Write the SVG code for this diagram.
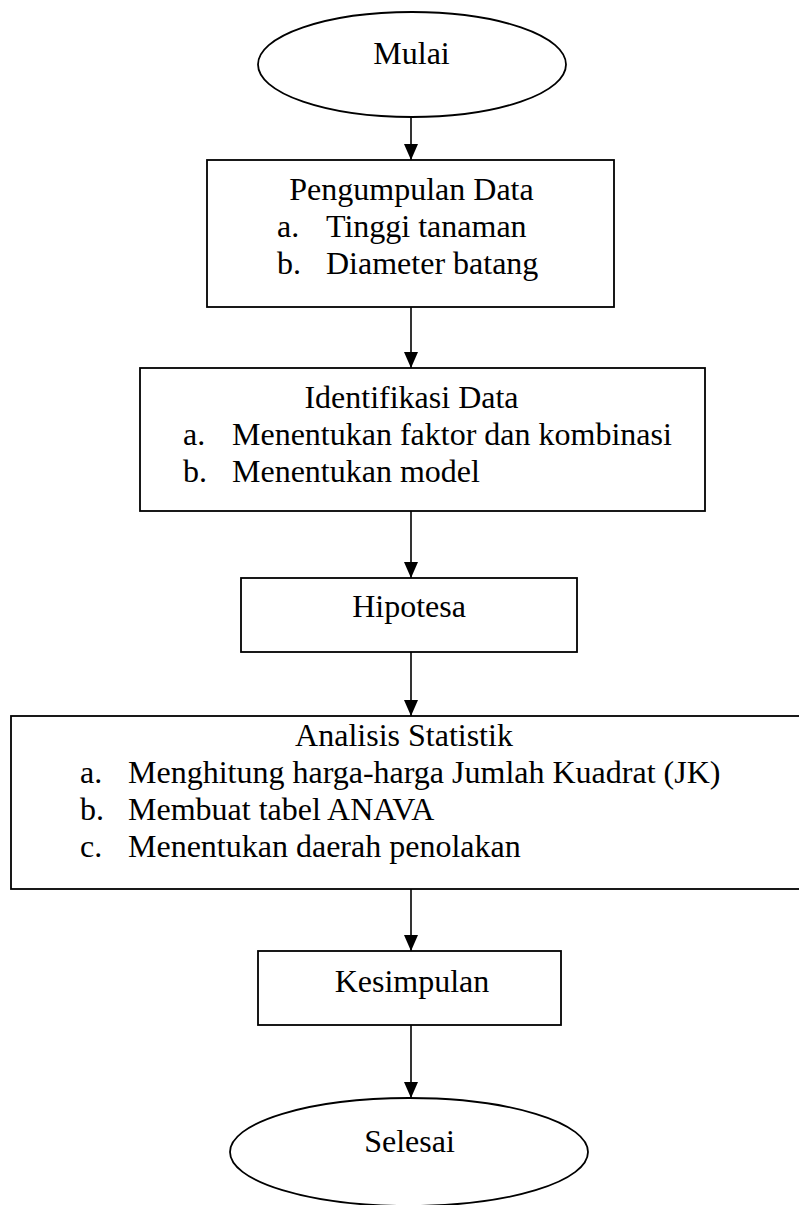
<svg xmlns="http://www.w3.org/2000/svg" width="799" height="1205" viewBox="0 0 799 1205">
<style>
.shape{fill:#fff;stroke:#000;stroke-width:1.8}
.t{font-family:"Liberation Serif","Times New Roman",serif;font-size:32px;fill:#000}
.c{text-anchor:middle}
.conn{stroke:#000;stroke-width:1.6;fill:none}
</style>
<defs>
<marker id="ah" markerUnits="userSpaceOnUse" markerWidth="16" markerHeight="14" refX="16" refY="7" orient="auto" viewBox="0 0 16 14">
<path d="M0,0 L16,7 L0,14 Z" fill="#000"/>
</marker>
</defs>
<rect width="799" height="1205" fill="#fff"/>
<g id="connectors">
<line class="conn" x1="411" y1="117" x2="411" y2="160" marker-end="url(#ah)"/>
<line class="conn" x1="411" y1="307" x2="411" y2="368" marker-end="url(#ah)"/>
<line class="conn" x1="411" y1="511" x2="411" y2="578" marker-end="url(#ah)"/>
<line class="conn" x1="411" y1="652" x2="411" y2="716" marker-end="url(#ah)"/>
<line class="conn" x1="411" y1="889" x2="411" y2="951" marker-end="url(#ah)"/>
<line class="conn" x1="411" y1="1025" x2="411" y2="1098" marker-end="url(#ah)"/>
</g>
<g id="mulai">
<ellipse class="shape" cx="412" cy="64.5" rx="154" ry="52.5"/>
<text class="t c" x="411.5" y="64">Mulai</text>
</g>
<g id="pengumpulan">
<rect class="shape" x="207" y="160" width="407" height="147"/>
<text class="t c" x="411.5" y="200">Pengumpulan Data</text>
<text class="t" x="277" y="237">a.</text><text class="t" x="326" y="237">Tinggi tanaman</text>
<text class="t" x="277" y="274">b.</text><text class="t" x="326" y="274">Diameter batang</text>
</g>
<g id="identifikasi">
<rect class="shape" x="140" y="368" width="565" height="143"/>
<text class="t c" x="411.5" y="408">Identifikasi Data</text>
<text class="t" x="183" y="445">a.</text><text class="t" x="232" y="445">Menentukan faktor dan kombinasi</text>
<text class="t" x="183" y="482">b.</text><text class="t" x="232" y="482">Menentukan model</text>
</g>
<g id="hipotesa">
<rect class="shape" x="241" y="578" width="336" height="74"/>
<text class="t c" x="409" y="617">Hipotesa</text>
</g>
<g id="analisis">
<rect class="shape" x="11" y="716" width="810" height="173"/>
<text class="t c" x="404" y="746">Analisis Statistik</text>
<text class="t" x="80" y="783">a.</text><text class="t" x="128" y="783">Menghitung harga-harga Jumlah Kuadrat (JK)</text>
<text class="t" x="80" y="820">b.</text><text class="t" x="128" y="820">Membuat tabel ANAVA</text>
<text class="t" x="80" y="857">c.</text><text class="t" x="128" y="857">Menentukan daerah penolakan</text>
</g>
<g id="kesimpulan">
<rect class="shape" x="258" y="951" width="303" height="74"/>
<text class="t c" x="412" y="992">Kesimpulan</text>
</g>
<g id="selesai">
<ellipse class="shape" cx="409" cy="1152" rx="179" ry="54"/>
<text class="t c" x="409.5" y="1152">Selesai</text>
</g>
</svg>
